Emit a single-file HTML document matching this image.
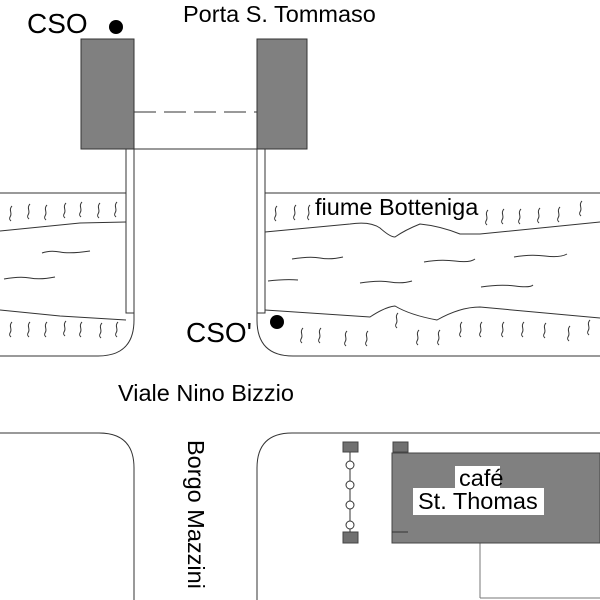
<!DOCTYPE html>
<html><head><meta charset="utf-8"><style>body{margin:0;background:#fff}svg{display:block}</style></head><body>
<svg width="600" height="600" viewBox="0 0 600 600" xmlns="http://www.w3.org/2000/svg" font-family="Liberation Sans, sans-serif">
<defs><path id="s" d="M2,0 C-2,4 3,7 0,11 C-1,13 0,14 1,15" fill="none" stroke="#333" stroke-width="1"/></defs>
<rect width="600" height="600" fill="#fff"/>
<rect x="134" y="112" width="123" height="37" fill="#fff" stroke="#333"/>
<line x1="134" y1="112" x2="257" y2="112" stroke="#fff" stroke-width="2"/>
<line x1="134" y1="112" x2="257" y2="112" stroke="#333" stroke-dasharray="22,8"/>
<rect x="81" y="39" width="53" height="110" fill="#808080" stroke="#333"/>
<rect x="257" y="39" width="50" height="110" fill="#808080" stroke="#333"/>
<rect x="126" y="149" width="8" height="164" fill="#fff" stroke="#333"/>
<rect x="257" y="149" width="8" height="164" fill="#fff" stroke="#333"/>
<g fill="none" stroke="#333" stroke-width="1">
<line x1="0" y1="193" x2="126" y2="193"/>
<path d="M0,231 L80,223 L126,222"/>
<path d="M0,310 L60,316 L126,320"/>
<path d="M134,313 L134,320 Q134,356 98,356 L0,356"/>
<path d="M42,253 Q50,250 60,252 T90,251"/>
<path d="M4,279 Q20,276 30,278 T55,277"/>
<line x1="265" y1="193" x2="600" y2="193"/>
<path d="M265,232 L350,224 Q370,221 380,228 Q390,237 395,237 Q405,230 420,224 Q440,226 460,234 L480,234 L600,222"/>
<path d="M265,310 L370,317 Q385,307 395,306 Q410,315 437,320 Q460,307 480,307 L600,318"/>
<path d="M257,313 L257,320 Q257,356 293,356 L600,356"/>
<path d="M292,259 Q310,256 320,258 T343,257"/>
<path d="M268,281 Q285,279 298,280"/>
<path d="M360,283 Q378,280 390,282 T412,281"/>
<path d="M424,262 Q440,259 455,261 T475,259"/>
<path d="M514,257 Q530,254 545,256 T567,254"/>
<path d="M481,287 Q500,284 515,286 T533,285"/>
<path d="M0,433 L99,433 Q134,433 134,468 L134,600"/>
<path d="M600,433 L292,433 Q257,433 257,468 L257,600"/>
<line x1="480" y1="543" x2="480" y2="598" stroke="#777"/>
<line x1="480" y1="598" x2="600" y2="598" stroke="#777"/>
</g>
<g>
<use href="#s" x="10" y="206"/><use href="#s" x="28" y="204"/><use href="#s" x="45" y="205"/><use href="#s" x="64" y="203"/><use href="#s" x="80" y="202"/><use href="#s" x="98" y="203"/><use href="#s" x="115" y="202"/>
<use href="#s" x="10" y="322"/><use href="#s" x="28" y="322"/><use href="#s" x="45" y="322"/><use href="#s" x="64" y="321"/><use href="#s" x="80" y="322"/><use href="#s" x="100" y="323"/><use href="#s" x="116" y="322"/>
<use href="#s" x="275" y="206"/><use href="#s" x="294" y="205"/><use href="#s" x="308" y="205"/>
<use href="#s" x="486" y="210"/><use href="#s" x="502" y="209"/><use href="#s" x="519" y="209"/><use href="#s" x="538" y="208"/><use href="#s" x="558" y="207"/><use href="#s" x="580" y="201"/>
<use href="#s" x="301" y="328"/><use href="#s" x="319" y="328"/><use href="#s" x="345" y="331"/><use href="#s" x="366" y="331"/><use href="#s" x="396" y="313"/><use href="#s" x="417" y="330"/><use href="#s" x="438" y="330"/><use href="#s" x="460" y="322"/><use href="#s" x="480" y="322"/><use href="#s" x="502" y="322"/><use href="#s" x="522" y="322"/><use href="#s" x="544" y="323"/><use href="#s" x="568" y="326"/><use href="#s" x="588" y="320"/>
</g>
<circle cx="116" cy="27" r="7" fill="#000"/>
<circle cx="277" cy="322" r="7" fill="#000"/>
<rect x="392" y="453" width="208" height="90" fill="#808080" stroke="#444"/>
<line x1="392" y1="532" x2="408" y2="532" stroke="#333"/>
<rect x="343" y="442" width="15" height="10" fill="#707070" stroke="#444"/>
<rect x="393" y="442" width="15" height="10" fill="#707070" stroke="#444"/>
<rect x="343" y="532" width="15" height="11" fill="#707070" stroke="#444"/>
<line x1="350" y1="452" x2="350" y2="532" stroke="#333"/>
<g fill="#fff" stroke="#333"><circle cx="350" cy="465" r="4"/><circle cx="350" cy="485" r="4"/><circle cx="350" cy="505" r="4"/><circle cx="350" cy="525" r="4"/></g>
<rect x="455" y="466" width="45" height="24" fill="#fff"/>
<rect x="413" y="488" width="131" height="27" fill="#fff"/>
<g fill="#000" font-size="23.5">
<text x="459" y="486">café</text>
<text x="418" y="509">St. Thomas</text>
<text x="183" y="22">Porta S. Tommaso</text>
<text x="315" y="215">fiume Botteniga</text>
<text x="118" y="401">Viale Nino Bizzio</text>
<text transform="translate(188,440) rotate(90)">Borgo Mazzini</text>
<text x="27" y="33" font-size="28">CSO</text>
<text x="186" y="342" font-size="28">CSO'</text>
</g>
</svg>
</body></html>
